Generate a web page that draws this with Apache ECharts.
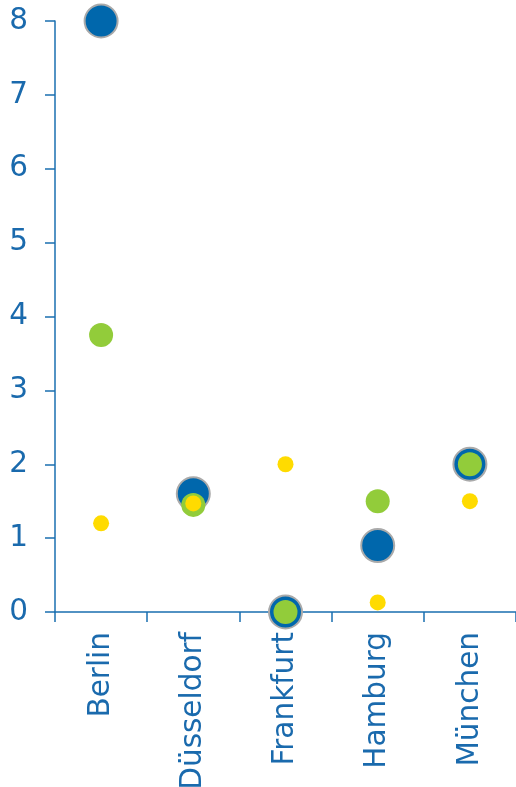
<!DOCTYPE html>
<html>
<head>
<meta charset="utf-8">
<script src="https://cdn.jsdelivr.net/npm/echarts@6/dist/echarts.min.js"></script>
<style>html,body{margin:0;padding:0;background:#fff}#c{width:516px;height:787px}</style>
</head>
<body>
<div id="c"></div>
<script>
var categories = ['Berlin', 'Düsseldorf', 'Frankfurt', 'Hamburg', 'München'];
var blueValues = [8, 1.6, 0, 0.9, 2.0];
var greenValues = [3.75, 1.45, 0, 1.5, 2.0];
var yellowValues = [1.2, 1.47, 2.0, 0.13, 1.5];
var yTicks = [0, 1, 2, 3, 4, 5, 6, 7, 8];

var axisColor = '#1a6fb0';
var textColor = '#1a6aad';
var chart = echarts.init(document.getElementById('c'), null, {renderer: 'canvas'});
chart.setOption({
  animation: false,
  grid: {left: 55, right: 0, top: 21, bottom: 175, containLabel: false, outerBoundsMode: 'none'},
  xAxis: {
    type: 'category',
    data: categories,
    boundaryGap: true,
    axisLine: {show: true, lineStyle: {color: axisColor, width: 1.5}},
    axisTick: {show: true, length: 10, lineStyle: {color: axisColor, width: 1.5}},
    axisLabel: {rotate: 90, margin: 20, color: textColor, fontFamily: 'DejaVu Sans', fontSize: 29.5, interval: 0}
  },
  yAxis: {
    type: 'value',
    min: yTicks[0], max: yTicks[yTicks.length - 1], interval: 1,
    splitLine: {show: false},
    axisLine: {show: true, lineStyle: {color: axisColor, width: 1.5}},
    axisTick: {show: true, length: 10, lineStyle: {color: axisColor, width: 1.5}},
    axisLabel: {margin: 27, color: textColor, fontFamily: 'DejaVu Sans', fontSize: 29.5}
  },
  series: [
    {type: 'scatter', data: blueValues, symbolSize: 33, z: 2,
     itemStyle: {color: '#0067ac', borderColor: '#aaaaaa', borderWidth: 2, opacity: 1}},
    {type: 'scatter', data: greenValues, symbolSize: 24, z: 3,
     itemStyle: {color: '#92cc3a', opacity: 1}},
    {type: 'scatter', data: yellowValues, symbolSize: 16, z: 4,
     itemStyle: {color: '#ffdb00', opacity: 1}}
  ]
});
</script>
</body>
</html>
